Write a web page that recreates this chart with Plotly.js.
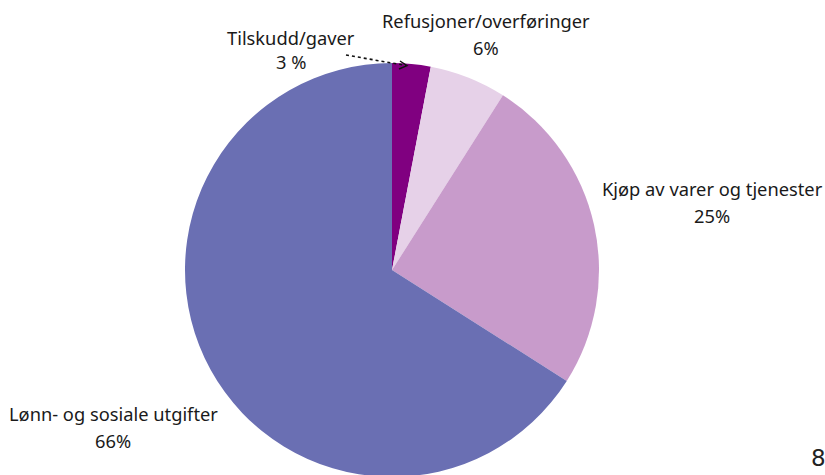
<!DOCTYPE html>
<html>
<head>
<meta charset="utf-8">
<script src="https://cdn.plot.ly/plotly-3.0.1.min.js"></script>
<style>html,body{margin:0;padding:0;overflow:hidden;background:#fff;}#chart{width:825px;height:500px;}</style>
</head>
<body>
<div id="chart"></div>
<script>
var categories = ["Tilskudd/gaver", "Refusjoner/overføringer", "Kjøp av varer og tjenester", "Lønn- og sosiale utgifter"];
var values = [3, 6, 25, 66];
var percentLabels = ["3 %", "6%", "25%", "66%"];
var colors = ["#800080", "#E6D1E8", "#C89BCB", "#6A6FB3"];
var pageNumber = "8";

var W = 825, H = 500;
function px(x){ return x / W; }
function py(y){ return 1 - y / H; }

// label placement (pixel centers): name line, percent line
var labelPos = [
  {x: 291, yName: 38, yPct: 61},
  {x: 486, yName: 20, yPct: 48},
  {x: 712, yName: 188, yPct: 216},
  {x: 113, yName: 413, yPct: 440}
];

var font = {family: "Noto Sans, Open Sans, sans-serif", size: 18.3, color: "#1a1a1a"};
var annotations = [];
categories.forEach(function(c, i){
  var p = labelPos[i];
  annotations.push({xref:"paper", yref:"paper", x: px(p.x), y: py(p.yName), text: c, showarrow:false, xanchor:"center", yanchor:"middle", font: font});
  annotations.push({xref:"paper", yref:"paper", x: px(p.x), y: py(p.yPct), text: percentLabels[i], showarrow:false, xanchor:"center", yanchor:"middle", font: font});
});
annotations.push({xref:"paper", yref:"paper", x: px(818), y: py(458), text: pageNumber, showarrow:false, xanchor:"center", yanchor:"middle", font:{family:"DejaVu Sans, sans-serif", size:23, color:"#222"}});

var cx = 392, cy = 270, r = 207;
var data = [{
  type: "pie",
  labels: categories,
  values: values,
  sort: false,
  direction: "clockwise",
  rotation: 0,
  textinfo: "none",
  hoverinfo: "label+percent",
  marker: {colors: colors, line: {width: 0}},
  domain: {x: [px(cx - r), px(cx + r)], y: [py(cy + r), py(cy - r)]},
  showlegend: false
}];

var shapes = [
  {type:"line", xref:"paper", yref:"paper", x0:px(346), y0:py(55), x1:px(406), y1:py(65.5), line:{color:"#111", width:1.6, dash:"dot"}},
  {type:"path", xref:"paper", yref:"paper", path: "M " + px(400) + "," + py(61) + " L " + px(407) + "," + py(65.6) + " L " + px(399) + "," + py(69), line:{color:"#111", width:1.4}}
];

var layout = {
  width: W, height: H,
  margin: {l:0, r:0, t:0, b:0},
  paper_bgcolor: "#fff",
  plot_bgcolor: "#fff",
  annotations: annotations,
  shapes: shapes,
  showlegend: false
};
Plotly.newPlot("chart", data, layout, {displayModeBar:false, staticPlot:true});
</script>
</body>
</html>
